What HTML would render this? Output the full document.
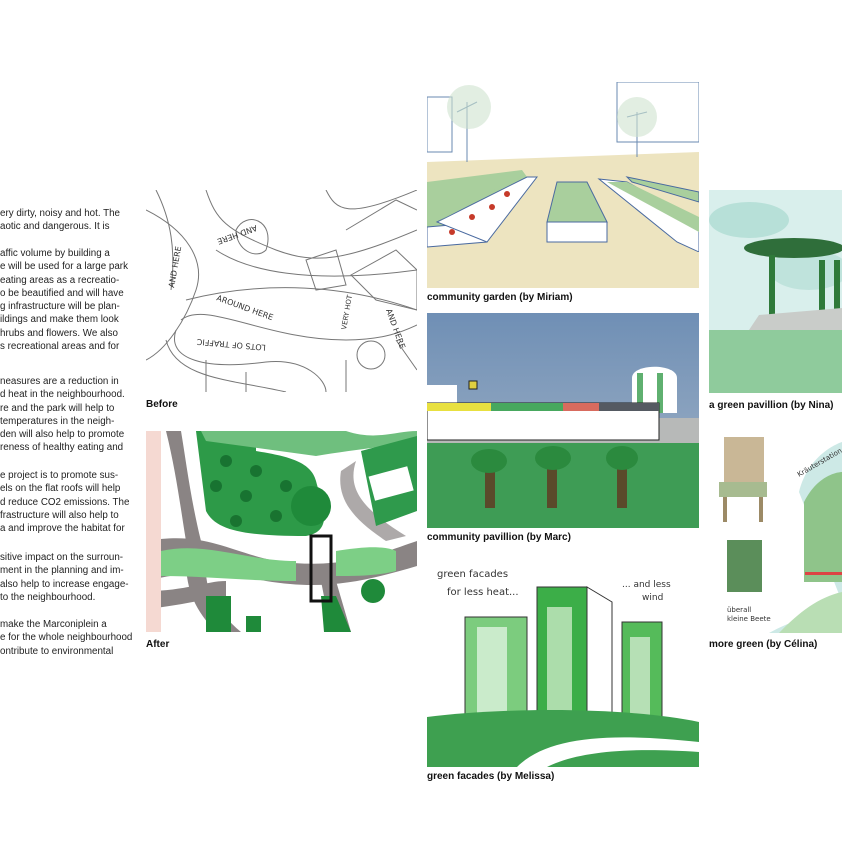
<!DOCTYPE html>
<html><head><meta charset="utf-8"><style>
html,body{margin:0;padding:0;background:#fff;}
body{width:842px;height:842px;position:relative;overflow:hidden;font-family:"Liberation Sans",sans-serif;}
.t{position:absolute;left:0;font-size:9.8px;color:#222;white-space:nowrap;line-height:13.3px;}
.cap{position:absolute;font-size:10px;font-weight:bold;color:#111;white-space:nowrap;}
svg{position:absolute;}
.hw{font-family:"DejaVu Sans",sans-serif;fill:#333;}
</style></head><body>

<div class="t" style="top:207px">ery dirty, noisy and hot. The<br>aotic and dangerous. It is</div>
<div class="t" style="top:247px">affic volume by building a<br>e will be used for a large park<br>eating areas as a recreatio-<br>o be beautified and will have<br>g infrastructure will be plan-<br>ildings and make them look<br>hrubs and flowers. We also<br>s recreational areas and for</div>
<div class="t" style="top:375px">neasures are a reduction in<br>d heat in the neighbourhood.<br>re and the park will help to<br>temperatures in the neigh-<br>den will also help to promote<br>reness of healthy eating and</div>
<div class="t" style="top:469px">e project is to promote sus-<br>els on the flat roofs will help<br>d reduce CO2 emissions. The<br>frastructure will also help to<br>a and improve the habitat for</div>
<div class="t" style="top:551px">sitive impact on the surroun-<br>ment in the planning and im-<br>also help to increase engage-<br> to the neighbourhood.</div>
<div class="t" style="top:618px">make the Marconiplein a<br>e for the whole neighbourhood<br>ontribute to environmental</div>

<!-- Before -->
<svg style="left:146px;top:190px" width="271" height="202" viewBox="0 0 271 202">
<g fill="none" stroke="#777" stroke-width="1">
<path d="M0 20 C40 40 60 70 50 100 C40 130 20 160 0 170"/>
<path d="M10 0 C25 30 30 60 25 100"/>
<path d="M60 0 C70 30 80 40 130 60 C170 75 200 70 271 40"/>
<path d="M70 60 C100 80 160 95 271 80"/>
<path d="M40 110 C120 90 200 95 271 120"/>
<path d="M35 130 C60 110 120 150 200 150 C240 150 260 140 271 135"/>
<path d="M30 140 C20 170 60 180 120 172 C160 168 180 190 180 202"/>
<path d="M20 150 C30 190 90 190 140 202"/>
<path d="M90 40 C100 20 130 30 120 60 C110 70 90 60 90 40Z"/>
<path d="M160 70 L190 60 L200 95 L170 100Z"/>
<path d="M205 85 L250 60 L271 80 L271 120 L230 110Z"/>
<path d="M200 40 L250 10 L271 20"/>
<path d="M180 0 C190 20 200 30 271 0"/>
<circle cx="225" cy="165" r="14"/>
<path d="M200 170 L200 202 M250 150 L271 180"/>
<path d="M60 170 L60 202 M100 182 L100 202"/>
</g>
<text class="hw" font-size="8" transform="translate(28,98) rotate(-80)">AND HERE</text>
<text class="hw" font-size="8" transform="translate(110,35) rotate(160)">AND HERE</text>
<text class="hw" font-size="8" transform="translate(70,110) rotate(20)">AROUND HERE</text>
<text class="hw" font-size="8" transform="translate(120,155) rotate(185)">LOTS OF TRAFFIC</text>
<text class="hw" font-size="7" transform="translate(200,140) rotate(-80)">VERY HOT</text>
<text class="hw" font-size="8" transform="translate(240,120) rotate(70)">AND HERE</text>
</svg>
<div class="cap" style="left:146px;top:399px">Before</div>

<!-- After -->
<svg style="left:146px;top:431px" width="271" height="201" viewBox="0 0 271 201">
<rect width="271" height="201" fill="#fff"/>
<path d="M0 110 C60 100 80 120 130 130 C200 140 240 120 271 110 L271 135 C220 150 180 160 120 150 C70 140 40 140 0 150Z" fill="#8a8484"/>
<path d="M20 0 C30 40 35 80 40 110 L55 110 C45 70 40 30 35 0Z" fill="#8a8484"/>
<path d="M40 130 C40 160 50 180 70 201 L95 201 C70 180 60 160 60 140Z" fill="#8a8484"/>
<path d="M0 160 C40 160 60 150 80 150 L80 165 C50 170 30 175 0 178Z" fill="#8a8484"/>
<path d="M175 150 L185 201 L205 201 L190 150Z" fill="#8a8484"/>
<path d="M195 40 C190 70 210 90 240 110 L260 105 C220 80 200 60 210 30Z" fill="#8a8484" opacity="0.7"/>
<path d="M50 0 L60 80 C70 100 100 105 160 105 C190 100 175 70 170 50 C165 30 140 25 110 20 L110 0Z" fill="#2d9a48"/>
<path d="M55 0 L200 0 C230 10 250 0 271 0 L271 12 C240 15 200 20 170 25 L60 10Z" fill="#6fbf7e"/>
<path d="M215 20 L271 5 L271 80 L230 95 Z" fill="#2f9a4c"/>
<rect x="225" y="40" width="40" height="25" fill="#fff" transform="rotate(-15 245 52)"/>
<circle cx="165" cy="75" r="20" fill="#1f8a3a"/>
<path d="M15 120 C60 110 100 130 150 130 L150 150 C100 150 60 145 15 145Z" fill="#7dcf86"/>
<path d="M190 120 C220 115 240 115 250 120 L250 140 C230 145 210 145 190 145Z" fill="#7dcf86"/>
<circle cx="227" cy="160" r="12" fill="#1f8a3a"/>
<path d="M175 165 L190 165 L205 201 L178 201Z" fill="#1f8a3a"/>
<rect x="60" y="165" width="25" height="36" fill="#1f8a3a"/>
<rect x="100" y="185" width="15" height="16" fill="#1f8a3a"/>
<rect x="165" y="105" width="20" height="65" fill="none" stroke="#111" stroke-width="3"/>
<g fill="#0b5a22" opacity="0.6"><circle cx="80" cy="30" r="6"/><circle cx="110" cy="40" r="6"/><circle cx="70" cy="55" r="6"/><circle cx="100" cy="65" r="6"/><circle cx="140" cy="55" r="6"/><circle cx="130" cy="85" r="6"/><circle cx="90" cy="90" r="6"/></g>
<path d="M0 0 L15 0 L15 201 L0 201Z" fill="#f5d9d2"/>
</svg>
<div class="cap" style="left:146px;top:639px">After</div>

<!-- Community garden -->
<svg style="left:427px;top:82px" width="272" height="206" viewBox="0 0 272 206">
<rect width="272" height="206" fill="#fff"/>
<path d="M0 80 L272 70 L272 206 L0 206Z" fill="#ede4c0"/>
<g fill="none" stroke="#6a8ab0" stroke-width="1"><path d="M40 80 L40 20 M30 30 L50 20 M210 75 L210 30 M200 35 L220 30"/><rect x="190" y="0" width="82" height="60"/><rect x="0" y="15" width="25" height="55"/></g>
<circle cx="42" cy="25" r="22" fill="#cfe3cf" opacity="0.6"/><circle cx="210" cy="35" r="20" fill="#cfe3cf" opacity="0.6"/>
<path d="M0 100 L95 88 L100 95 L60 140 L0 145Z" fill="#a9cf9d"/>
<path d="M0 145 L60 140 L60 160 L0 165Z" fill="#fff" stroke="#4a6aa0"/>
<path d="M10 140 L100 95 L110 95 L60 160Z" fill="#fff" stroke="#4a6aa0"/>
<path d="M10 140 L90 98 L95 92 Z" fill="#a9cf9d"/>
<path d="M130 100 L160 100 L180 140 L120 140Z" fill="#a9cf9d" stroke="#4a6aa0"/>
<rect x="120" y="140" width="60" height="20" fill="#fff" stroke="#4a6aa0"/>
<path d="M172 97 L200 100 L272 140 L272 170 L250 160 Z" fill="#fff" stroke="#4a6aa0"/>
<path d="M180 100 L200 100 L272 135 L272 150 Z" fill="#a9cf9d"/>
<path d="M200 95 L272 110 L272 120 L205 100Z" fill="#a9cf9d" stroke="#4a6aa0"/>
<g fill="#c63a2a"><circle cx="25" cy="150" r="3"/><circle cx="45" cy="135" r="3"/><circle cx="65" cy="125" r="3"/><circle cx="80" cy="112" r="3"/></g>
<rect x="0" y="170" width="272" height="36" fill="#ede4c0"/>
</svg>
<div class="cap" style="left:427px;top:292px">community garden (by Miriam)</div>

<!-- Community pavillion -->
<svg style="left:427px;top:313px" width="272" height="215" viewBox="0 0 272 215">
<defs><linearGradient id="sk" x1="0" y1="0" x2="0" y2="1"><stop offset="0" stop-color="#6f8fb5"/><stop offset="1" stop-color="#a6b6c8"/></linearGradient></defs>
<rect width="272" height="215" fill="url(#sk)"/>
<rect x="0" y="125" width="272" height="90" fill="#3e9c55"/>
<rect x="0" y="105" width="272" height="25" fill="#b7b9b8"/>
<path d="M205 65 C205 50 250 50 250 65 L250 100 L205 100Z" fill="#fff"/>
<rect x="210" y="60" width="6" height="40" fill="#5fb070"/><rect x="230" y="60" width="6" height="40" fill="#5fb070"/>
<rect x="0" y="72" width="30" height="20" fill="#fff"/>
<rect x="0" y="90" width="232" height="37" fill="#fff" stroke="#222"/>
<rect x="0" y="90" width="64" height="8" fill="#e8e040"/>
<rect x="64" y="90" width="72" height="8" fill="#47a85e"/>
<rect x="136" y="90" width="36" height="8" fill="#d86b5e"/>
<rect x="172" y="90" width="60" height="8" fill="#555a62"/>
<rect x="42" y="68" width="8" height="8" fill="#e0d040" stroke="#222"/>
<g fill="#5a4a2a"><rect x="58" y="150" width="10" height="45"/><rect x="120" y="150" width="10" height="45"/><rect x="190" y="150" width="10" height="45"/></g>
<g fill="#2b8a3e"><ellipse cx="62" cy="148" rx="18" ry="12"/><ellipse cx="126" cy="145" rx="18" ry="12"/><ellipse cx="195" cy="145" rx="16" ry="12"/></g>
</svg>
<div class="cap" style="left:427px;top:532px">community pavillion (by Marc)</div>

<!-- Green facades -->
<svg style="left:427px;top:557px" width="272" height="210" viewBox="0 0 272 210">
<rect width="272" height="210" fill="#fff"/>
<rect x="38" y="60" width="62" height="110" fill="#7ccc7e" stroke="#333"/>
<rect x="50" y="70" width="30" height="100" fill="#fff" opacity="0.6"/>
<rect x="110" y="30" width="50" height="140" fill="#3cae48" stroke="#333"/>
<rect x="120" y="50" width="25" height="110" fill="#c8e8c4" opacity="0.8"/>
<path d="M160 30 L185 45 L185 170 L160 170Z" fill="#fff" stroke="#333"/>
<rect x="195" y="65" width="40" height="105" fill="#55bb5a" stroke="#333"/>
<rect x="203" y="80" width="20" height="90" fill="#dff0dc" opacity="0.7"/>
<path d="M0 160 C80 150 200 150 272 165 L272 210 L0 210Z" fill="#3ea050"/>
<path d="M90 210 C120 180 180 175 272 185 L272 195 C200 190 150 195 120 210Z" fill="#fff"/>
<text class="hw" font-size="10" x="10" y="20">green facades</text>
<text class="hw" font-size="10" x="20" y="38">for less heat...</text>
<text class="hw" font-size="9" x="195" y="30">... and less</text>
<text class="hw" font-size="9" x="215" y="43">wind</text>
</svg>
<div class="cap" style="left:427px;top:771px">green facades (by Melissa)</div>

<!-- Green pavillion -->
<svg style="left:709px;top:190px" width="133" height="203" viewBox="0 0 133 203">
<rect width="133" height="203" fill="#d9efec"/>
<ellipse cx="40" cy="30" rx="40" ry="18" fill="#b7e0d8"/>
<ellipse cx="100" cy="80" rx="40" ry="20" fill="#bfe3dc"/>
<ellipse cx="85" cy="58" rx="50" ry="10" fill="#2f6e3a"/>
<rect x="60" y="65" width="6" height="60" fill="#2f7a3a"/><rect x="110" y="70" width="6" height="50" fill="#2f7a3a"/><rect x="125" y="70" width="6" height="50" fill="#2f7a3a"/>
<path d="M50 125 L133 118 L133 140 L40 140Z" fill="#c9ccc9"/>
<rect x="0" y="140" width="133" height="63" fill="#8fcb9c"/>
</svg>
<div class="cap" style="left:709px;top:400px">a green pavillion (by Nina)</div>

<!-- More green -->
<svg style="left:709px;top:432px" width="133" height="201" viewBox="0 0 133 201">
<rect width="133" height="201" fill="#fff"/>
<path d="M90 60 C100 20 133 10 133 10 L133 170 C110 180 80 190 60 201 L133 201 L133 170Z" fill="#cde9e6"/>
<path d="M95 70 C110 40 133 40 133 40 L133 150 L95 150Z" fill="#8fc48a"/>
<path d="M70 201 C90 180 110 165 133 160 L133 201Z" fill="#b9deb4"/>
<rect x="96" y="140" width="37" height="3" fill="#d44"/>
<rect x="15" y="5" width="40" height="45" fill="#c9b796"/>
<rect x="10" y="50" width="48" height="15" fill="#a7bb90"/>
<rect x="14" y="65" width="4" height="25" fill="#9c8a66"/><rect x="50" y="65" width="4" height="25" fill="#9c8a66"/>
<rect x="18" y="108" width="35" height="52" fill="#5b8e5a"/>
<text class="hw" font-size="7" transform="translate(90,45) rotate(-30)">Kräuterstation</text>
<text class="hw" font-size="7" x="18" y="180">überall</text>
<text class="hw" font-size="7" x="18" y="189">kleine Beete</text>
</svg>
<div class="cap" style="left:709px;top:639px">more green (by Célina)</div>

</body></html>
